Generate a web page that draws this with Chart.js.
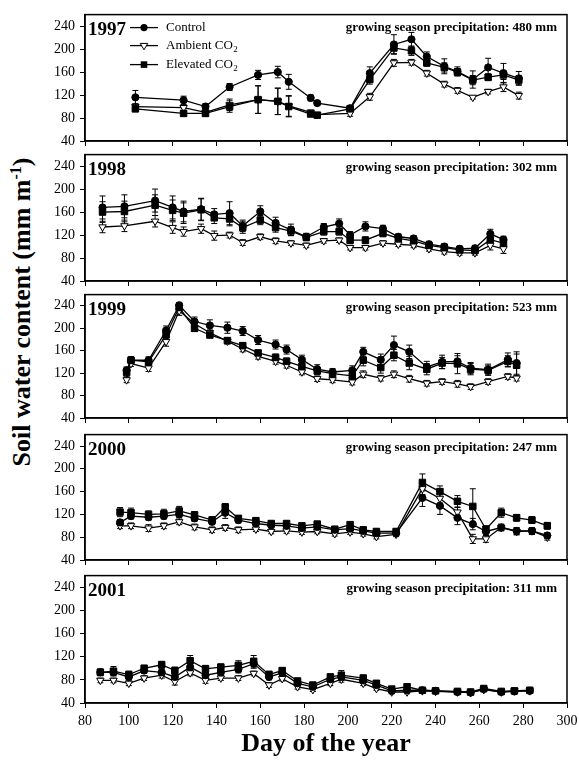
<!DOCTYPE html>
<html>
<head>
<meta charset="utf-8">
<script src="https://cdn.jsdelivr.net/npm/chart.js@4/dist/chart.umd.min.js"></script>
<style>
  html, body { margin: 0; padding: 0; background: #fff; }
  #wrap { position: relative; width: 579px; height: 760px; background: #fff; overflow: hidden; }
  canvas { position: absolute; left: 0; }
  #ytitle { position: absolute; left: 22px; top: 312px; transform: translate(-50%, -50%) rotate(-90deg);
    font: bold 26px "Liberation Serif", "Times New Roman", serif; white-space: nowrap; color: #000; }
  #ytitle sup { font-size: 16px; }
</style>
</head>
<body>
<div id="wrap">
  <div id="ytitle">Soil water content (mm m<sup>-1</sup>)</div>
</div>
<script>
// ---------------- DATA ----------------
const xTickValues = [80, 100, 120, 140, 160, 180, 200, 220, 240, 260, 280, 300];
const yTickValues = [40, 80, 120, 160, 200, 240];
const seriesNames = ['Control', 'Ambient CO2', 'Elevated CO2'];
const years = ['1997', '1998', '1999', '2000', '2001'];
const precipitation = [480, 302, 523, 247, 311];

// 1997
const days1997 = [103,125,135,146,159,168,173,183,186,201,210,221,229,236,244,250,257,264,271,278];
const control1997 = [116,111,100,134,155,160,143,115,106,97,158,208,217,187,170,161,147,168,158,149];
const ambient1997 = [100,98,90,103,112,109,101,90,86,88,117,176,177,158,139,128,116,126,134,119];
const elevated1997 = [96,88,88,100,112,109,100,87,85,96,147,202,197,176,168,160,146,151,155,146];
const controlErr1997 = [12,7,5,6,8,10,13,5,4,5,11,17,12,8,13,8,15,16,17,12];
const ambientErr1997 = [5,5,4,10,24,23,18,4,3,5,6,6,5,5,5,5,3,4,8,6];
const elevatedErr1997 = [5,4,4,10,24,23,18,4,3,5,8,10,8,6,8,6,8,6,8,8];

// 1998
const days1998 = [88,98,112,120,125,133,139,146,152,160,167,174,181,189,196,201,208,216,223,230,237,244,251,258,265,271];
const control1998 = [168,170,180,168,161,165,156,158,136,161,141,129,117,134,140,120,135,131,117,114,104,100,96,97,122,112];
const ambient1998 = [134,136,144,133,126,131,119,120,107,117,110,106,102,110,111,98,98,106,104,102,96,91,89,89,102,96];
const elevated1998 = [160,161,172,163,158,164,150,148,133,146,133,127,116,126,126,111,111,123,114,110,102,98,94,93,112,106];
const controlErr1998 = [20,20,20,20,18,19,10,20,10,10,10,10,6,6,8,6,8,6,5,5,5,5,5,5,8,6];
const ambientErr1998 = [10,10,10,10,8,8,8,5,5,5,5,4,4,4,4,4,4,4,4,4,4,4,4,4,8,8];
const elevatedErr1998 = [18,18,18,18,18,19,10,12,10,8,8,8,6,6,6,6,6,6,5,5,5,5,5,5,8,6];

// 1999
const days1999 = [99,101,109,117,123,130,137,145,152,159,167,172,179,186,193,202,207,215,221,228,236,243,250,256,264,273,277];
const control1999 = [125,143,143,196,241,212,205,201,195,179,171,162,144,127,122,125,158,144,170,158,131,140,141,129,126,144,138];
const ambient1999 = [108,137,129,176,231,208,192,177,163,150,141,134,122,110,108,104,118,111,118,110,102,105,101,96,105,114,111];
const elevated1999 = [121,143,140,188,237,200,188,178,169,156,148,141,132,124,119,115,143,130,152,138,127,138,137,127,125,141,134];
const controlErr1999 = [6,6,6,8,5,8,10,10,8,8,8,8,8,8,6,8,8,10,16,12,10,12,10,10,10,12,20];
const ambientErr1999 = [5,5,6,8,8,5,5,5,5,5,5,5,5,5,5,5,6,5,6,6,5,5,6,5,5,5,5];
const elevatedErr1999 = [8,6,6,8,5,6,5,5,5,5,6,6,6,6,6,8,10,10,10,12,10,10,18,10,8,10,20];

// 2000
const days2000 = [96,101,109,116,123,130,138,144,150,158,165,172,179,186,194,201,207,213,222,234,242,250,257,263,270,277,284,291];
const control2000 = [106,117,115,117,120,113,107,123,110,104,101,100,96,98,93,95,91,87,87,149,135,114,103,90,97,91,91,83];
const ambient2000 = [100,100,96,100,107,98,93,97,93,94,90,91,89,90,86,89,86,81,85,165,148,124,77,77,97,90,91,80];
const elevated2000 = [124,123,120,121,126,119,110,133,113,109,104,104,100,103,94,102,93,90,90,176,160,143,134,94,123,114,110,100];
const controlErr2000 = [5,5,5,5,5,5,5,10,5,4,4,4,4,4,4,4,4,4,4,15,15,12,10,6,5,6,6,5];
const ambientErr2000 = [5,5,6,5,5,5,5,5,5,4,4,4,4,4,4,4,4,4,4,10,8,8,8,6,6,6,6,5];
const elevatedErr2000 = [8,8,6,8,8,6,6,6,5,5,4,4,4,4,4,4,4,4,4,15,10,10,31,6,8,6,6,6];

// 2001
const days2001 = [87,93,100,107,115,121,128,135,142,150,157,164,170,177,184,192,197,207,213,220,227,234,240,250,256,262,270,276,283];
const control2001 = [93,93,85,96,93,85,102,88,93,98,108,85,92,74,68,81,85,79,71,61,62,62,61,59,58,64,59,60,61];
const ambient2001 = [79,79,74,83,88,77,92,79,83,83,91,71,82,68,63,74,81,74,65,59,59,61,60,59,58,63,59,61,61];
const elevated2001 = [93,95,89,100,106,96,113,99,102,105,112,89,96,78,71,85,88,83,74,64,68,62,61,60,59,65,60,61,62];
const controlErr2001 = [5,6,5,5,5,5,8,5,5,6,8,5,4,4,4,5,6,4,3,3,3,3,3,3,3,3,3,3,3];
const ambientErr2001 = [4,4,4,4,5,6,5,5,4,4,4,4,4,4,3,4,5,4,3,3,3,3,3,3,3,3,3,3,3];
const elevatedErr2001 = [6,8,6,5,6,6,9,6,5,8,10,6,5,4,4,5,8,5,4,3,3,3,3,3,3,3,3,3,3];

// ------------- assembled table built from the arrays above -------------
const panelData = [
  { days: days1997, control: control1997, ambient: ambient1997, elevated: elevated1997, cE: controlErr1997, aE: ambientErr1997, eE: elevatedErr1997 },
  { days: days1998, control: control1998, ambient: ambient1998, elevated: elevated1998, cE: controlErr1998, aE: ambientErr1998, eE: elevatedErr1998 },
  { days: days1999, control: control1999, ambient: ambient1999, elevated: elevated1999, cE: controlErr1999, aE: ambientErr1999, eE: elevatedErr1999 },
  { days: days2000, control: control2000, ambient: ambient2000, elevated: elevated2000, cE: controlErr2000, aE: ambientErr2000, eE: elevatedErr2000 },
  { days: days2001, control: control2001, ambient: ambient2001, elevated: elevated2001, cE: controlErr2001, aE: ambientErr2001, eE: elevatedErr2001 }
];

// ---------------- LAYOUT ----------------
const SERIF = '"Liberation Serif", "Times New Roman", serif';
const PLOT_LEFT = 85, PLOT_RIGHT = 567, PAGE_W = 579, PAGE_H = 760;
const panelTop = [12, 152, 292, 432, 573];
const panelBottom = [141, 281, 418, 560, 703];
const PAD_TOP = 3;

Chart.defaults.font.family = SERIF;
Chart.defaults.color = '#000';

function toXY(xs, ys) { return xs.map((x, i) => ({ x: x, y: ys[i] })); }

const errorBars = {
  id: 'errorBars',
  beforeDatasetsDraw(chart) {
    const ctx = chart.ctx, ys = chart.scales.y;
    ctx.save();
    ctx.strokeStyle = '#000';
    ctx.lineWidth = 1;
    chart.data.datasets.forEach((ds, di) => {
      const meta = chart.getDatasetMeta(di);
      if (!ds.errors) return;
      meta.data.forEach((pt, i) => {
        const v = ds.data[i].y, e = ds.errors[i];
        if (!e) return;
        const x = pt.x, y1 = ys.getPixelForValue(v + e), y2 = ys.getPixelForValue(v - e);
        ctx.beginPath();
        ctx.moveTo(x, y1); ctx.lineTo(x, y2);
        ctx.moveTo(x - 3, y1); ctx.lineTo(x + 3, y1);
        ctx.moveTo(x - 3, y2); ctx.lineTo(x + 3, y2);
        ctx.stroke();
      });
    });
    ctx.restore();
  }
};

function drawMarker(ctx, kind, x, y) {
  ctx.beginPath();
  if (kind === 'circle') {
    ctx.arc(x, y, 3.6, 0, Math.PI * 2);
    ctx.fillStyle = '#000'; ctx.fill();
  } else if (kind === 'rect') {
    ctx.rect(x - 3.3, y - 3.3, 6.6, 6.6);
    ctx.fillStyle = '#000'; ctx.fill();
  } else {
    ctx.moveTo(x - 3.8, y - 2.2); ctx.lineTo(x + 3.8, y - 2.2); ctx.lineTo(x, y + 4.2); ctx.closePath();
    ctx.fillStyle = '#fff'; ctx.fill();
    ctx.strokeStyle = '#000'; ctx.lineWidth = 1; ctx.stroke();
  }
}

const annotate = {
  id: 'annotate',
  afterDraw(chart, args, opts) {
    const ctx = chart.ctx, a = chart.chartArea;
    ctx.save();
    ctx.strokeStyle = '#000'; ctx.lineWidth = 1.5;
    ctx.strokeRect(a.left, a.top, a.right - a.left, a.bottom - a.top);
    ctx.fillStyle = '#000';
    ctx.textBaseline = 'middle';
    ctx.textAlign = 'left';
    ctx.font = 'bold 19px ' + SERIF;
    ctx.fillText(opts.year, a.left + 3, a.top + 15);
    ctx.textAlign = 'right';
    ctx.font = 'bold 13px ' + SERIF;
    ctx.fillText('growing season precipitation: ' + opts.precip + ' mm', a.right - 10, a.top + 13);
    if (opts.legend) {
      const kinds = ['circle', 'triangle', 'rect'];
      const offs = [13, 31, 50];
      seriesNames.forEach((name, i) => {
        const y = a.top + offs[i];
        ctx.strokeStyle = '#000'; ctx.lineWidth = 1.3;
        ctx.beginPath(); ctx.moveTo(130, y); ctx.lineTo(158, y); ctx.stroke();
        drawMarker(ctx, kinds[i], 144, y);
        ctx.fillStyle = '#000';
        ctx.textAlign = 'left';
        ctx.font = '13px ' + SERIF;
        if (name.endsWith('CO2')) {
          const base = name.slice(0, -1);
          ctx.fillText(base, 166, y);
          const w = ctx.measureText(base).width;
          ctx.font = '9px ' + SERIF;
          ctx.fillText('2', 166 + w + 0.5, y + 4);
        } else {
          ctx.fillText(name, 166, y);
        }
      });
    }
    ctx.restore();
  }
};

const wrap = document.getElementById('wrap');

panelData.forEach((p, k) => {
  const last = k === panelData.length - 1;
  const xAxisH = last ? (PAGE_H - panelBottom[k]) : 6;
  const canvasTop = panelTop[k] - PAD_TOP;
  const canvasH = panelBottom[k] - panelTop[k] + PAD_TOP + xAxisH;
  const cv = document.createElement('canvas');
  cv.width = PAGE_W; cv.height = canvasH;
  cv.style.width = PAGE_W + 'px'; cv.style.height = canvasH + 'px';
  cv.style.top = canvasTop + 'px';
  wrap.appendChild(cv);

  const common = { showLine: true, borderColor: '#000', borderWidth: 1.3, pointBorderColor: '#000', pointBorderWidth: 1 };
  new Chart(cv.getContext('2d'), {
    type: 'scatter',
    data: {
      datasets: [
        Object.assign({ label: seriesNames[0], data: toXY(p.days, p.control), errors: p.cE,
          pointStyle: 'circle', pointRadius: 3.6, pointBackgroundColor: '#000' }, common),
        Object.assign({ label: seriesNames[2], data: toXY(p.days, p.elevated), errors: p.eE,
          pointStyle: 'rect', pointRadius: 4.6, pointBackgroundColor: '#000' }, common),
        Object.assign({ label: seriesNames[1], data: toXY(p.days, p.ambient), errors: p.aE,
          pointStyle: 'triangle', pointRotation: 180, pointRadius: 4.3, pointBackgroundColor: '#fff' }, common)
      ]
    },
    options: {
      responsive: false,
      animation: false,
      devicePixelRatio: 1,
      layout: { padding: { left: 0, right: PAGE_W - PLOT_RIGHT, top: PAD_TOP, bottom: 0 } },
      plugins: {
        legend: { display: false },
        tooltip: { enabled: false },
        annotate: { year: years[k], precip: precipitation[k], legend: k === 0 }
      },
      scales: {
        x: {
          type: 'linear', min: 80, max: 300,
          afterBuildTicks: s => { s.ticks = xTickValues.map(v => ({ value: v })); },
          ticks: { display: last, font: { size: 14 }, color: '#000', padding: 5, maxRotation: 0 },
          grid: { drawOnChartArea: false, drawTicks: true, tickLength: 5, color: '#000' },
          border: { display: true, color: '#000', width: 1.5 },
          title: { display: last, text: 'Day of the year', font: { size: 26, weight: 'bold' }, color: '#000', padding: { top: 0, bottom: 0 } },
          afterFit: s => { s.height = xAxisH; s.paddingLeft = 0; s.paddingRight = 0; }
        },
        y: {
          type: 'linear', min: 40, max: 260,
          afterBuildTicks: s => { s.ticks = yTickValues.map(v => ({ value: v })); },
          ticks: { font: { size: 14 }, color: '#000', padding: 5 },
          grid: { drawOnChartArea: false, drawTicks: true, tickLength: 5, color: '#000' },
          border: { display: true, color: '#000', width: 1.5 },
          afterFit: s => { s.width = PLOT_LEFT; s.paddingTop = 0; s.paddingBottom = 0; }
        }
      }
    },
    plugins: [errorBars, annotate]
  });
});
</script>
</body>
</html>
